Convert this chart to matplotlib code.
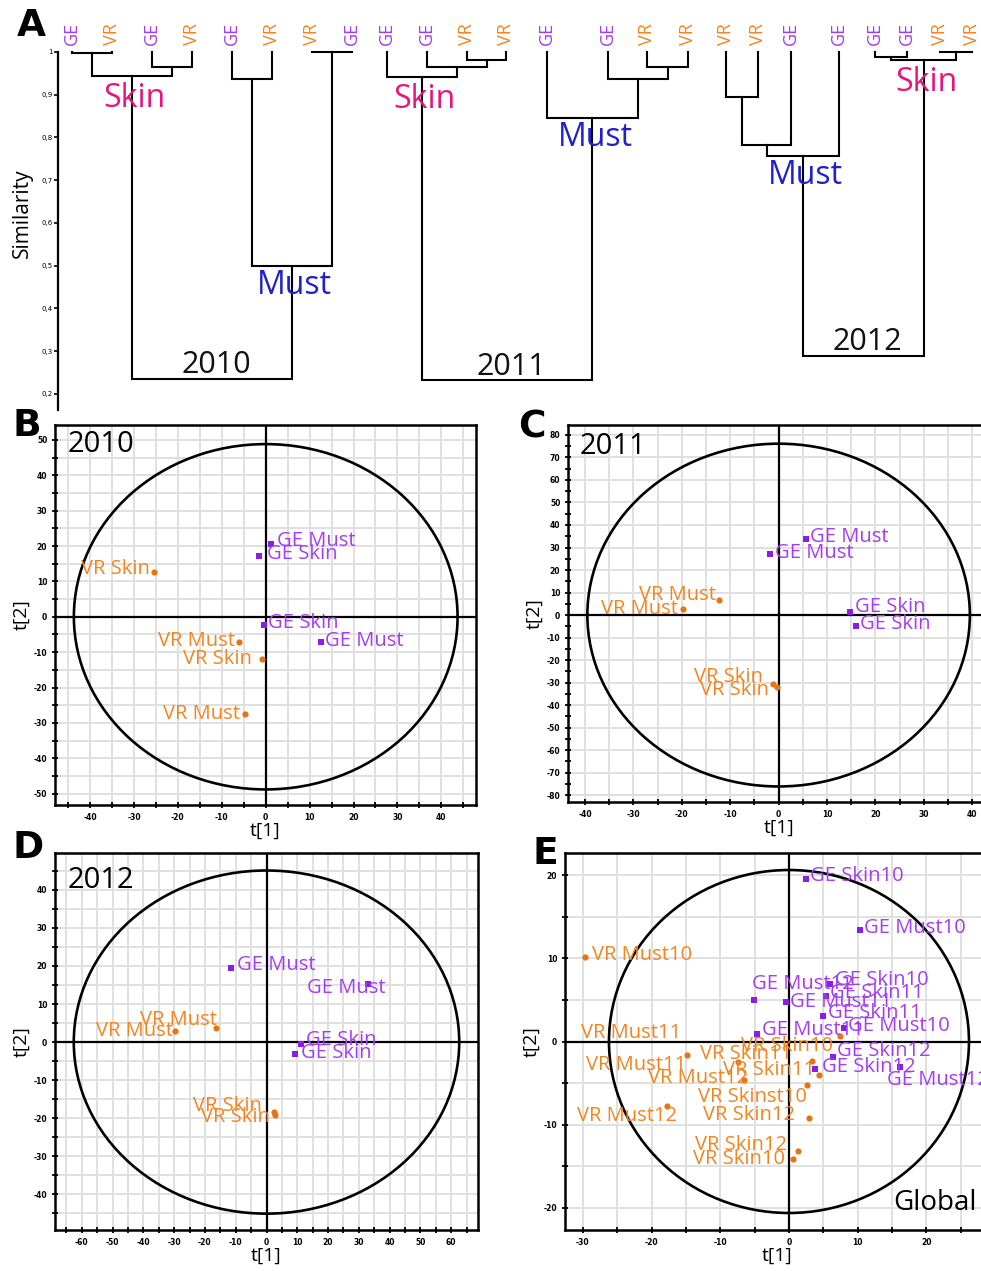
import numpy as np
import matplotlib
matplotlib.use('Agg')
import matplotlib.pyplot as plt
from matplotlib.patches import Ellipse
from matplotlib.ticker import MultipleLocator, FuncFormatter

plt.rcParams['font.family'] = ['Open Sans', 'DejaVu Sans']
plt.rcParams['axes.unicode_minus'] = False

GE_TXT = '#A33CF5'
GE_MK = '#8A1EE6'
VR_TXT = '#F5841E'
VR_MK = '#E47414'
SKIN_C = '#E8157C'
MUST_C = '#2020CC'

# ---------------- data: dendrograms (panel A) ----------------
dend_years = ['2010', '2011', '2012']
leaves_2010 = ['GE', 'VR', 'GE', 'VR', 'GE', 'VR', 'VR', 'GE']
leaves_2011 = ['GE', 'GE', 'VR', 'VR', 'GE', 'GE', 'VR', 'VR']
leaves_2012 = ['VR', 'VR', 'GE', 'GE', 'GE', 'GE', 'VR', 'VR']
# merges: (child a, child b, similarity); new node index = n_leaves + k
merges_2010 = [(0, 1, 0.997), (2, 3, 0.966), (6, 7, 1.0), (8, 9, 0.945),
               (4, 5, 0.938), (12, 10, 0.50), (11, 13, 0.236)]
merges_2011 = [(2, 3, 0.981), (1, 8, 0.966), (0, 9, 0.942), (6, 7, 0.966),
               (5, 11, 0.938), (4, 12, 0.845), (10, 13, 0.232)]
merges_2012 = [(0, 1, 0.894), (8, 2, 0.782), (9, 3, 0.757), (4, 5, 0.988),
               (6, 7, 0.999), (11, 12, 0.981), (10, 13, 0.289)]
clusters_2010 = {11: 'Skin', 13: 'Must'}
clusters_2011 = {10: 'Skin', 13: 'Must'}
clusters_2012 = {10: 'Must', 13: 'Skin'}
sim_ticks = [0.2, 0.3, 0.4, 0.5, 0.6, 0.7, 0.8, 0.9, 1.0]

# ---------------- data: PCA score plots ----------------
B_names = ['GE Must', 'GE Skin', 'VR Skin', 'GE Skin', 'GE Must', 'VR Must', 'VR Skin', 'VR Must']
B_t1 = [1.1, -1.5, -25.4, -0.5, 12.6, -6.2, -0.9, -4.7]
B_t2 = [20.5, 17.2, 12.7, -2.3, -7.2, -7.1, -11.8, -27.5]

C_names = ['GE Must', 'GE Must', 'VR Must', 'VR Must', 'GE Skin', 'GE Skin', 'VR Skin', 'VR Skin']
C_t1 = [5.6, -1.8, -12.3, -19.8, 14.7, 15.9, -1.2, -0.4]
C_t2 = [33.9, 27.0, 6.7, 2.5, 1.5, -4.9, -30.4, -32.1]

D_names = ['GE Must', 'GE Must', 'VR Must', 'VR Must', 'GE Skin', 'GE Skin', 'VR Skin', 'VR Skin']
D_t1 = [-11.4, 33.0, -16.5, -29.8, 11.1, 9.4, 2.4, 2.8]
D_t2 = [19.6, 15.3, 3.8, 2.8, -0.5, -3.1, -18.5, -19.1]

E_names = ['GE Skin10', 'GE Must10', 'GE Skin10', 'GE Skin11', 'GE Must12', 'GE Must11',
           'GE Skin11', 'GE Must11', 'GE Must10', 'GE Skin12', 'GE Skin12', 'GE Must12',
           'VR Must10', 'VR Must11', 'VR Must11', 'VR Skin10', 'VR Skin11', 'VR Skin11',
           'VR Must12', 'VR Skinst10', 'VR Must12', 'VR Skin12', 'VR Skin12', 'VR Skin10']
E_t1 = [2.43, 10.33, 5.97, 5.34, -5.05, -0.49, 5.0, -4.71, 8.05, 6.36, 3.78, 16.16,
        -29.69, -7.38, -14.8, 7.42, 3.3, 4.42, -6.5, 2.57, -17.8, 2.96, 1.36, 0.53]
E_t2 = [19.54, 13.44, 6.90, 5.42, 5.02, 4.70, 3.13, 0.85, 1.57, -1.84, -3.29, -3.12,
        10.23, -2.48, -1.6, 0.69, -2.32, -4.01, -4.69, -5.29, -7.82, -9.22, -13.15, -14.12]

# Hotelling ellipse half-axes (t1, t2)
ell_B = (43.7, 48.8)
ell_C = (39.5, 76.1)
ell_D = (62.6, 45.1)
ell_E = (26.2, 20.65)

# ---------------- layout (positions / offsets) ----------------
W, H = 981, 1271
fig = plt.figure(figsize=(W / 100, H / 100), dpi=100)


def px_axes(x0, y0, x1, y1):
    return fig.add_axes([x0 / W, 1 - y1 / H, (x1 - x0) / W, (y1 - y0) / H])


leafx_2010 = [72, 112, 152, 192, 232, 272, 312, 352]
leafx_2011 = [387, 427, 467, 506, 547, 608, 647, 688]
leafx_2012 = [726, 758, 791, 839, 875, 907, 940, 972]

# ---------------- Panel A ----------------
axA = px_axes(58, 52, 981, 410)
s_bottom = 1 - (410 - 52) / 427.5
axA.set_xlim(58, 981)
axA.set_ylim(s_bottom, 1.0)
for sp in ['top', 'right', 'bottom']:
    axA.spines[sp].set_visible(False)
axA.spines['left'].set_linewidth(1.6)
axA.set_xticks([])
axA.set_yticks(sim_ticks)
axA.set_yticklabels(['1' if v == 1.0 else ('%.1f' % v).replace('.', ',') for v in sim_ticks],
                    fontsize=5, family='DejaVu Sans')
axA.tick_params(axis='y', length=3, width=1.2, pad=1)
axA.patch.set_alpha(0)


def draw_dendro(ax, leaves, xs, merges, clusters, year):
    n = len(leaves)
    pos = list(xs)
    hgt = [1.0] * n
    for i, lab in enumerate(leaves):
        ax.annotate(lab, (xs[i], 1.0), xytext=(0, 5), textcoords='offset points',
                    rotation=90, ha='center', va='bottom', fontsize=13,
                    color=GE_TXT if lab == 'GE' else VR_TXT, annotation_clip=False)
    for k, (a, b, h) in enumerate(merges):
        xa, xb = pos[a], pos[b]
        ax.plot([xa, xa, xb, xb], [hgt[a], h, h, hgt[b]], color='k', lw=1.5,
                clip_on=False, solid_joinstyle='miter')
        pos.append((xa + xb) / 2)
        hgt.append(h)
        node = n + k
        if node in clusters:
            name = clusters[node]
            skin = name == 'Skin'
            ax.annotate(name, (pos[-1], h), xytext=(2, -4.5 if skin else -2),
                        textcoords='offset points', ha='center', va='top', fontsize=23,
                        color=SKIN_C if skin else MUST_C, zorder=5)
    ax.annotate(year, (pos[-1], hgt[-1]), xytext=(3, -1), textcoords='offset points',
                ha='center', va='bottom', fontsize=22, color='#111111')


draw_dendro(axA, leaves_2010, leafx_2010, merges_2010, clusters_2010, dend_years[0])
draw_dendro(axA, leaves_2011, leafx_2011, merges_2011, clusters_2011, dend_years[1])
draw_dendro(axA, leaves_2012, leafx_2012, merges_2012, clusters_2012, dend_years[2])
fig.text(22 / W, 1 - 213 / H, 'Similarity', rotation=90, ha='center', va='center', fontsize=15)

# ---------------- PCA panels ----------------
B_dx = [1.4, 1.7, -1.0, 1.1, 0.9, -0.8, -2.3, -1.15]
B_dy = [1.0, 0.5, 0.7, 0.4, 0.4, 0.3, 0.0, 0.0]
B_ha = ['left', 'left', 'right', 'left', 'left', 'right', 'right', 'right']

C_dx = [0.9, 1.0, -0.65, -0.9, 1.1, 0.9, -2.0, -1.7]
C_dy = [0.9, 0.7, 2.2, 0.0, 1.9, 0.8, 2.7, -1.2]
C_ha = ['left', 'left', 'right', 'right', 'left', 'left', 'right', 'right']

D_dx = [1.7, -19.8, 0.3, -0.5, 1.7, 1.7, -4.0, -1.7]
D_dy = [0.7, -1.1, 1.9, 0.2, 1.1, 0.2, 1.7, -0.6]
D_ha = ['left', 'left', 'right', 'right', 'left', 'left', 'right', 'right']

E_dx = [0.63, 0.59, 0.73, 0.63, -0.38, 0.64, 0.73, 0.73, 0.59, 0.58, 0.98, -1.94,
        0.97, -8.24, -0.1, -0.97, -2.91, -0.64, 0.58, 0.0, 1.45, -2.09, -1.7, -1.11]
E_dy = [0.40, 0.20, 0.52, 0.40, 1.92, 0.0, 0.36, 0.56, 0.32, 0.64, 0.21, -1.49,
        0.2, 3.49, -1.2, -1.21, 0.84, 0.6, 0.28, -1.4, -1.2, 0.32, 0.72, -0.03]
E_ha = ['left'] * 13 + ['right'] * 11


def pca_panel(rect, xlim, ylim, ygrid_minor, ell, names, t1, t2, dx, dy, ha, lab_fs):
    ax = px_axes(*rect)
    ax.set_xlim(xlim)
    ax.set_ylim(ylim)
    ax.xaxis.set_major_locator(MultipleLocator(10))
    ax.xaxis.set_minor_locator(MultipleLocator(5))
    ax.yaxis.set_major_locator(MultipleLocator(10))
    ax.yaxis.set_minor_locator(MultipleLocator(5))
    fmt = FuncFormatter(lambda v, p: '%d' % int(round(v)))
    ax.xaxis.set_major_formatter(fmt)
    ax.yaxis.set_major_formatter(fmt)
    ax.xaxis.grid(True, which='both', color='#E0E0E0', lw=1.4, zorder=0)
    ax.yaxis.grid(True, which='both' if ygrid_minor else 'major', color='#E0E0E0', lw=1.4, zorder=0)
    ax.set_axisbelow(True)
    ax.tick_params(which='both', direction='inout', length=5, width=1.3, labelsize=5.5,
                   pad=3, top=False, right=False)
    for lab in ax.get_xticklabels() + ax.get_yticklabels():
        lab.set_family('DejaVu Sans')
        lab.set_fontweight('bold')
    for sp in ax.spines.values():
        sp.set_linewidth(1.8)
    ax.axhline(0, color='k', lw=1.6, zorder=2)
    ax.axvline(0, color='k', lw=1.6, zorder=2)
    ax.add_patch(Ellipse((0, 0), 2 * ell[0], 2 * ell[1], fill=False, ec='k', lw=1.9, zorder=3))
    for nm, x, y, ddx, ddy, h in zip(names, t1, t2, dx, dy, ha):
        ge = nm.startswith('GE')
        ax.scatter([x], [y], marker='s' if ge else 'o', s=14 if ge else 20,
                   color=GE_MK if ge else VR_MK, zorder=5, linewidths=0)
        ax.text(x + ddx, y + ddy, nm, ha=h, va='center', fontsize=lab_fs,
                color=GE_TXT if ge else VR_TXT, zorder=6)
    ax.set_xlabel('t[1]', fontsize=14, labelpad=0)
    ax.set_ylabel('t[2]', fontsize=14, labelpad=2)
    return ax


axB = pca_panel((55, 425, 476, 805), (-48, 47.9), (-53.2, 54.2), True, ell_B,
                B_names, B_t1, B_t2, B_dx, B_dy, B_ha, 14.5)
axC = pca_panel((568, 425, 990, 802), (-43.5, 43.66), (-83, 84.4), False, ell_C,
                C_names, C_t1, C_t2, C_dx, C_dy, C_ha, 14.5)
axD = pca_panel((55, 853, 478, 1230), (-68.7, 68.7), (-49.4, 49.7), True, ell_D,
                D_names, D_t1, D_t2, D_dx, D_dy, D_ha, 14.5)
axE = pca_panel((565, 853, 990, 1230), (-32.6, 29.26), (-22.7, 22.7), True, ell_E,
                E_names, E_t1, E_t2, E_dx, E_dy, E_ha, 14.5)

fig.text(68 / W, 1 - 445 / H, '2010', va='center', ha='left', fontsize=21)
fig.text(580 / W, 1 - 447 / H, '2011', va='center', ha='left', fontsize=21)
fig.text(68 / W, 1 - 880 / H, '2012', va='center', ha='left', fontsize=21)
fig.text(893 / W, 1 - 1203 / H, 'Global', va='center', ha='left', fontsize=20)

for letter, (x, y) in zip('ABCDE', [(31, 26), (27, 426), (532, 428), (28, 848), (545, 854)]):
    fig.text(x / W, 1 - y / H, letter, ha='center', va='center', fontsize=27,
             fontweight='bold', family='DejaVu Sans')

fig.savefig('out.png', dpi=100)
